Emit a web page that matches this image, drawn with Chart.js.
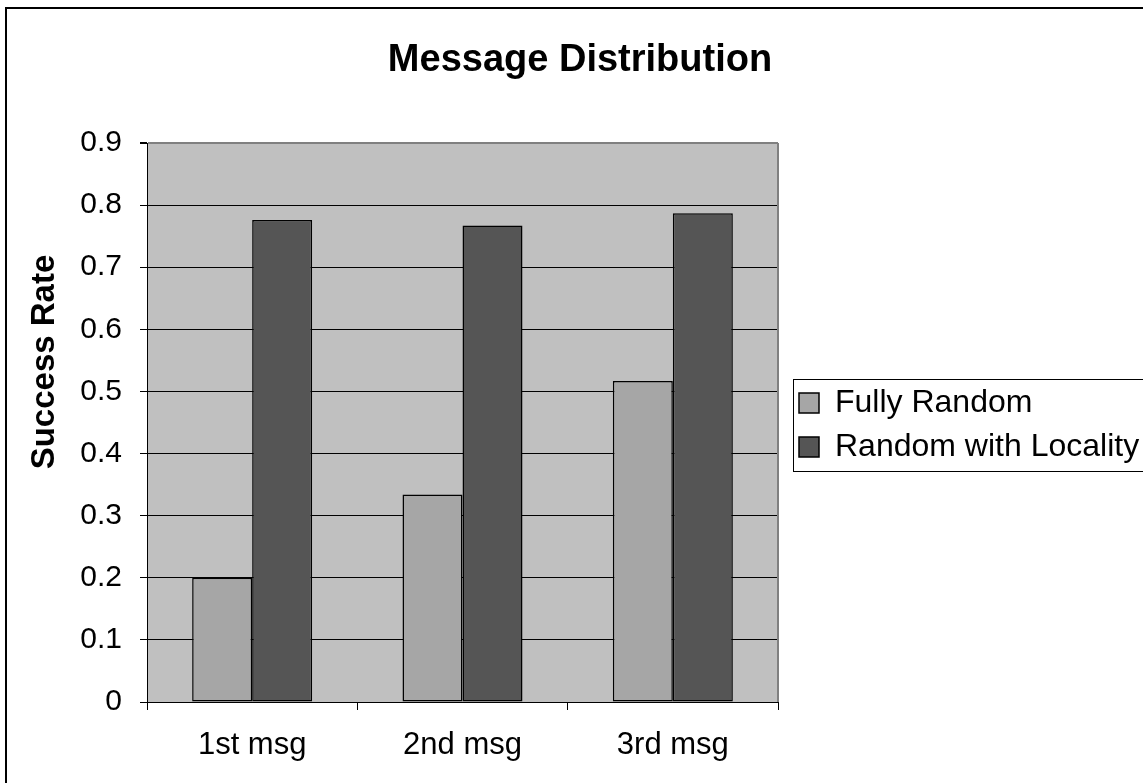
<!DOCTYPE html>
<html>
<head>
<meta charset="utf-8">
<title>Message Distribution</title>
<script src="https://cdn.jsdelivr.net/npm/chart.js@4.4.1/dist/chart.umd.min.js"></script>
<style>
  html, body { margin: 0; padding: 0; background: #fff; overflow: hidden; }
  canvas { display: block; }
</style>
</head>
<body>
<canvas id="chart" width="1143" height="783"></canvas>
<script>
// Data
const categories = ['1st msg', '2nd msg', '3rd msg'];
const fullyRandom = [0.2, 0.334, 0.517];
const randomWithLocality = [0.776, 0.767, 0.787];
const seriesNames = ['Fully Random', 'Random with Locality'];
const yTickLabels = ['0', '0.1', '0.2', '0.3', '0.4', '0.5', '0.6', '0.7', '0.8', '0.9'];
const chartTitle = 'Message Distribution';
const yAxisTitle = 'Success Rate';

const FONT = "'Liberation Sans', Arial, Helvetica, sans-serif";

// Page frame, grey plot background, plot border, rotated axis title and legend frame
const decorations = {
  id: 'decorations',
  afterInit(chart) {
    const legend = chart.legend;
    const fit = legend.fit.bind(legend);
    legend.fit = function () {
      fit();
      this.width = 365;
    };
  },
  afterLayout(chart) {
    const legend = chart.legend;
    legend.left = 787;
    legend.top = 375;
  },
  beforeDraw(chart) {
    const { ctx, chartArea: a } = chart;
    ctx.save();
    ctx.fillStyle = '#ffffff';
    ctx.fillRect(0, 0, chart.width, chart.height);
    ctx.strokeStyle = '#000000';
    ctx.lineWidth = 2;
    ctx.strokeRect(6, 8, chart.width + 40, chart.height + 40);
    ctx.fillStyle = '#c0c0c0';
    ctx.fillRect(a.left, a.top, a.right - a.left, a.bottom - a.top);
    ctx.restore();
  },
  afterDraw(chart) {
    const { ctx, chartArea: a } = chart;
    ctx.save();
    // right edge of the plot area
    ctx.strokeStyle = '#808080';
    ctx.lineWidth = 2;
    ctx.beginPath();
    ctx.moveTo(a.right, a.top);
    ctx.lineTo(a.right, a.bottom);
    ctx.stroke();

    // y axis title
    ctx.fillStyle = '#000000';
    ctx.font = 'bold 33px ' + FONT;
    ctx.textAlign = 'center';
    ctx.textBaseline = 'middle';
    ctx.translate(45, 362);
    ctx.rotate(-Math.PI / 2);
    ctx.fillText(yAxisTitle, 0, 0);
    ctx.restore();

    // legend frame
    const boxes = chart.legend.legendHitBoxes;
    if (boxes && boxes.length) {
      const last = boxes[boxes.length - 1];
      const top = 379;
      const bottom = last.top + last.height + (boxes[0].top - top);
      ctx.save();
      ctx.strokeStyle = '#000000';
      ctx.lineWidth = 1;
      ctx.strokeRect(793.5, top + 0.5, chart.width, bottom - top);
      ctx.restore();
    }
  }
};

new Chart(document.getElementById('chart'), {
  type: 'bar',
  data: {
    labels: categories,
    datasets: [
      {
        label: seriesNames[0],
        data: fullyRandom,
        backgroundColor: '#a6a6a6',
        borderColor: '#000000',
        borderWidth: 1.5,
        borderSkipped: false
      },
      {
        label: seriesNames[1],
        data: randomWithLocality,
        backgroundColor: '#555555',
        borderColor: '#000000',
        borderWidth: 1.5,
        borderSkipped: false
      }
    ]
  },
  options: {
    responsive: false,
    animation: false,
    devicePixelRatio: 1,
    categoryPercentage: 0.5706,
    barPercentage: 1.0,
    layout: { padding: { left: 17, right: 0, top: 0, bottom: 0 } },
    plugins: {
      title: {
        display: true,
        text: chartTitle,
        color: '#000000',
        font: { family: FONT, size: 38, weight: 'bold', lineHeight: 1.2 },
        padding: { top: 38, bottom: 59.4 }
      },
      legend: {
        display: true,
        position: 'right',
        align: 'start',
        labels: {
          color: '#000000',
          font: { family: FONT, size: 32 },
          boxWidth: 20,
          boxHeight: 20,
          padding: 12
        }
      },
      tooltip: { enabled: false }
    },
    scales: {
      x: {
        grid: {
          offset: true,
          drawOnChartArea: false,
          drawTicks: true,
          tickLength: 8,
          color: '#000000'
        },
        border: { display: true, color: '#000000', width: 1 },
        ticks: {
          color: '#000000',
          font: { family: FONT, size: 31 },
          padding: 17,
          maxRotation: 0
        },
        afterFit(scale) { scale.height = 81; }
      },
      y: {
        min: 0,
        max: 0.9,
        grid: {
          color: (c) => (c.tick && c.tick.value >= 0.89 ? '#808080' : '#000000'),
          lineWidth: (c) => (c.tick && c.tick.value >= 0.89 ? 2 : 1),
          tickColor: '#000000',
          tickLength: 7,
          drawTicks: true
        },
        border: { display: true, color: '#000000', width: 1 },
        ticks: {
          stepSize: 0.1,
          color: '#000000',
          font: { family: FONT, size: 30 },
          padding: 18,
          callback: (value, index) => yTickLabels[index]
        },
        afterFit(scale) { scale.width = 130; }
      }
    }
  },
  plugins: [decorations]
});
</script>
</body>
</html>
